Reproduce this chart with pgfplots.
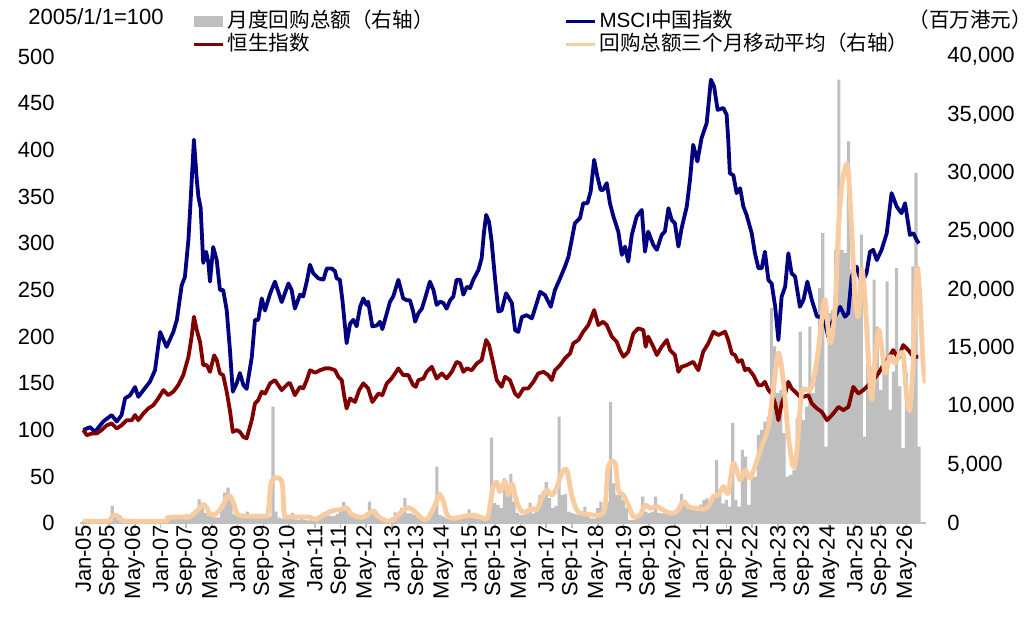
\documentclass[border=0pt]{standalone}
\usepackage{fontspec}
\setmainfont{Liberation Sans}
\newfontfamily\cjk{Noto Sans CJK SC}
\usepackage{pgfplots}
\usepackage{pgfplotstable}
\pgfplotsset{compat=1.18}
\definecolor{msci}{RGB}{0,0,128}
\definecolor{hsi}{RGB}{128,0,0}
\definecolor{ma}{RGB}{248,203,160}
\definecolor{barg}{RGB}{191,191,191}
\definecolor{axg}{RGB}{191,191,191}

\pgfplotstableread{
m v
0 200
1 100
2 150
3 100
4 120
5 150
6 100
7 150
8 200
9 1490
10 770
11 300
12 150
13 100
14 200
15 150
16 100
17 150
18 200
19 150
20 100
21 150
22 200
23 250
24 300
25 250
26 630
27 400
28 350
29 400
30 450
31 500
32 770
33 500
34 700
35 900
36 2060
37 1770
38 900
39 630
40 630
41 500
42 490
43 1200
44 2630
45 3060
46 2060
47 770
48 770
49 600
50 500
51 1000
52 600
53 490
54 490
55 450
56 500
57 700
58 600
59 10000
60 1000
61 490
62 400
63 350
64 500
65 900
66 340
67 300
68 350
69 300
70 250
71 300
72 350
73 400
74 450
75 700
76 900
77 630
78 630
79 800
80 1000
81 1830
82 1340
83 700
84 600
85 600
86 500
87 450
88 700
89 1860
90 1000
91 600
92 400
93 300
94 250
95 300
96 500
97 940
98 700
99 1290
100 2150
101 860
102 860
103 700
104 500
105 400
106 350
107 400
108 600
109 1200
110 4860
111 700
112 600
113 430
114 430
115 430
116 400
117 430
118 500
119 600
120 1200
121 500
122 430
123 400
124 430
125 500
126 800
127 7350
128 1720
129 1570
130 1290
131 3860
132 2430
133 4230
134 1860
135 900
136 715
137 715
138 800
139 1770
140 860
141 1200
142 2430
143 2720
144 3520
145 2150
146 1290
147 1500
148 9150
149 2430
150 2490
151 1000
152 900
153 800
154 700
155 900
156 1430
157 600
158 430
159 430
160 1290
161 1860
162 1290
163 1860
164 10380
165 3430
166 2430
167 2430
168 2000
169 1290
170 290
171 290
172 400
173 600
174 2290
175 1000
176 900
177 1000
178 2290
179 900
180 860
181 860
182 800
183 900
184 1000
185 1200
186 2490
187 1570
188 1300
189 1300
190 1300
191 1400
192 1600
193 2000
194 2140
195 1800
196 2500
197 5430
198 2570
199 1700
200 2000
201 1430
202 8580
203 2000
204 1430
205 6300
206 5720
207 1570
208 4000
209 4000
210 7580
211 8000
212 8720
213 9150
214 18450
215 15160
216 11150
217 11440
218 7720
219 4000
220 4150
221 4580
222 9000
223 16440
224 8870
225 10000
226 16870
227 11150
228 14000
229 20160
230 24880
231 6580
232 18020
233 18300
234 23450
235 38040
236 23450
237 23170
238 32750
239 21740
240 22020
241 18600
242 24740
243 7440
244 16870
245 13440
246 20880
247 16870
248 11440
249 13580
250 20740
251 9720
252 13000
253 21880
254 11730
255 6440
256 12870
257 10000
258 22020
259 30030
260 6580
}\bars

\pgfplotstableread{
m v
0 100
2.1 103
3.6 98
6.2 109
8.8 116
10.4 109
11.9 116
13.0 134
14.5 137
16.1 146
17.1 135.5
20.7 151.6
22.3 164
23.9 205
25.9 189
28.0 205
29.1 218
30.6 255
31.6 264
32.7 304
33.4 347
34.4 411
35.3 368
35.8 350
36.5 338
37.3 279
38.2 291
38.9 279
39.4 259
40.4 296
41.5 282
42.5 250
43.5 250
44.6 228.5
45.6 186
46.5 141
47.7 150
48.7 161
49.8 148
50.8 144
52.4 178
53.4 218
54.4 218
55.5 241
56.5 228
58.1 246
59.6 259
61.7 237
63.8 257
64.8 250
65.8 230
67.4 245
68.4 243
69.5 259
70.5 277
71.5 268
73.1 262.5
74.7 261
75.7 273
77.3 273
78.3 270
78.8 262.5
79.8 261
80.6 239
81.4 211
81.9 193
83.0 214
84.0 218
85.0 211
86.1 232
87.1 241
88.1 234
88.6 237.5
89.9 211
91.3 212
92.3 216
93.0 208
94.4 225
95.4 237.5
96.4 243
98.0 261
99.5 241
100.6 239
101.6 239
102.6 227
103.2 216
104.2 225
105.3 230
106.3 241
107.8 259
108.9 250
109.9 234
111.0 237.5
112.0 236
113.0 230
114.1 239
115.1 243
116.1 261
117.2 261
118.2 245
119.3 253.5
120.3 252
121.3 261
122.9 271.5
123.9 284
124.6 311
125.3 330.5
126.2 323
127.0 302
128.1 261
129.1 227
130.1 228
131.5 246.5
133.3 236
134.3 207
135.3 205
136.4 221
137.9 223
139.5 219.6
140.5 230
142.1 248
143.6 244.6
145.4 232
146.7 250
148.3 262.5
149.8 275
150.9 285.7
151.9 303.6
152.9 321.5
154.5 327
155.5 343
156.8 343
157.8 355.5
158.9 389.5
159.9 371.6
160.9 357.3
161.7 357.3
162.8 364.5
163.8 343
164.9 328.6
166.4 312.6
167.5 287.6
168.5 296.5
169.5 280.4
170.6 309
172.1 328.6
173.7 335.8
174.7 291
175.7 312.6
177.3 298.3
178.4 293
179.9 309
180.9 312.6
182.0 337.7
183.0 325
184.0 321.5
185.1 296.5
186.1 316.2
187.7 339.4
188.7 368
189.7 405.6
191.0 387.7
192.3 412.8
193.9 428.9
195.2 475.3
196.2 468
197.3 443
199.1 445
200.1 437.8
200.6 411
201.1 375
202.2 373
203.2 353.8
204.3 359
205.3 339.4
206.3 330.5
207.9 310.8
208.9 289.4
210.0 273.3
211.0 273.3
212.0 291
213.1 260.7
214.1 257
215.2 232
216.2 196.4
217.2 242.8
218.3 253.5
219.3 289.4
220.3 268
221.4 264.3
222.9 232
224.0 239.3
225.2 259
226.6 239.3
228.2 221.4
229.2 221.4
230.7 214.3
231.7 200
232.8 214.3
235.4 232
236.9 221.4
237.9 225
239.0 264.3
240.5 275
242.1 257
243.6 268
244.7 291
245.7 293
246.8 282
248.3 293
249.9 310.8
251.4 353.8
253.0 339.4
254.5 332.3
255.6 343
257.1 309
258.2 310.8
259.2 303.6
259.9 300
}\mscit

\pgfplotstableread{
m v
0 100
1.1 94.4
2.6 96.2
4.2 96.2
5.7 100
7.3 105
8.8 107
10.4 101.6
11.9 105
13.5 110.5
15.1 110.5
16.1 116
17.1 110.5
18.7 117.7
20.2 123
21.8 126.6
23.3 133.8
24.9 142.7
26.4 137.3
28.0 141
29.5 148
31.1 158.8
32.7 178.4
33.7 200
34.4 221.4
35.3 207
36.3 194.5
37.3 169.5
38.4 169.5
39.4 162.3
40.7 180
41.5 175
42.5 160.6
43.5 158.8
44.6 141
45.6 121
46.5 98
47.7 99.8
48.7 98
49.8 92.6
50.8 90.9
52.4 110.5
53.4 128.4
54.4 132
55.5 141
56.5 139
58.1 150
59.6 153.4
61.7 142.7
63.8 150
64.3 150
65.8 137.3
67.4 146.2
68.4 144.5
69.5 153.4
70.5 164
72.1 161.3
73.6 164
75.2 166
76.7 166
78.3 164
79.3 157
80.4 153.4
81.2 135.5
81.9 123
83.0 133.8
84.5 130
85.8 142.7
87.1 150
88.6 144.5
89.9 130
91.8 139
93.0 137.3
94.4 150
95.9 155.2
98.0 166
99.5 158.8
101.1 158.8
102.6 148
103.4 146.2
104.2 153.4
105.8 155.2
106.8 162.3
108.4 167.7
109.9 155.2
111.5 160.6
113.0 155.2
114.6 162.3
116.1 173
117.2 171.3
118.2 162.3
119.3 166
120.8 164
122.4 171.3
123.9 174.9
125.3 196.4
126.2 191
127.5 171.3
128.6 153.4
130.1 146.2
131.2 157
132.7 153.4
134.3 139
135.3 135.5
136.9 144.5
138.4 144.5
140.0 151.6
141.5 160.6
143.1 162.3
144.6 158.8
145.7 153.4
146.7 164
148.3 169.5
149.8 176.7
151.4 182
152.4 192.8
154.0 196.4
155.5 205.3
157.1 212.4
158.9 228.5
160.2 212.4
161.7 216
162.8 212.4
164.4 200
165.9 194.5
166.9 185.6
168.0 178.4
169.5 183.8
171.1 203.5
172.6 208.9
174.2 207
174.9 189.2
175.7 200
177.3 189.2
178.4 180.3
179.9 189.2
181.5 196.4
182.5 185.6
184.0 180.3
185.1 162.3
186.1 167.7
187.7 169.5
189.7 173
191.3 164
192.8 183.8
194.4 192.8
196.0 205.3
197.5 201.7
199.6 205.3
200.6 196.4
201.7 182
202.7 180.3
203.7 173
204.8 174.9
205.8 164
206.8 166
208.4 158.8
210.0 148
211.0 148
212.0 151.6
213.1 142.7
214.1 139
215.2 128.4
216.2 110.5
217.2 128.4
218.3 139
219.3 151.6
220.3 144.5
221.4 141
222.9 135.5
224.0 135.5
225.5 137.3
226.6 128.4
228.2 123
229.7 119.4
231.3 110.5
232.3 114
233.3 117.7
234.9 124.8
236.4 121.2
238.0 124.8
239.5 146.2
241.1 139
242.6 142.7
244.2 148
245.7 153.4
247.3 160.6
248.8 169.5
250.4 176.7
251.9 185.6
253.5 176.7
255.0 191
256.6 185.6
258.2 178.4
259.7 178.4
}\hsit

\pgfplotstableread{
m v
0 200
7.8 200
8.8 540
9.9 690
11.4 490
13 200
25.4 200
26.4 490
29.5 540
32.7 540
34.2 770
36.3 1340
37.3 1630
38.4 1340
39.4 770
41 770
43 1340
44.6 2200
45.6 2350
46.7 1770
47.7 900
49.3 630
56.5 630
57.5 900
58.6 3630
61.7 3630
62.5 770
63.8 540
70 540
72.1 340
75.2 770
77.3 1060
80.4 1200
81.9 1340
83.5 770
86.6 490
88.2 715
90.2 1060
91.8 570
94.4 200
96.4 290
98.5 860
100.6 1340
102.6 1140
104.7 570
106.8 290
109.4 1570
110.7 2490
112 1860
113.2 715
115.1 430
121.3 715
125.5 400
126.5 1570
127.5 3150
128.6 3520
129.6 2720
131.2 3580
132.2 2430
133.4 3350
134.8 1860
136.4 1000
137.9 1000
139.5 1290
141 1140
142.6 2150
144.1 2860
145.7 2430
147.2 3000
148.8 4290
150.4 4580
151.9 2430
153.5 1140
155 860
160.7 715
162.3 1430
163.3 4860
165.4 5150
166.4 2860
168 2430
169.5 1570
171.1 570
173.2 715
174.7 1570
176.3 1290
178.4 1430
180.4 1140
182.5 860
184.6 1000
186.6 1860
188.2 1430
190 1290
193.9 1290
196 2300
197.5 2400
199.1 3150
200.6 2570
202.2 5150
204.3 3720
205.8 4580
207.4 3860
208.9 4860
211 6580
213.1 8290
214.6 11440
216.2 14590
217.7 12300
219.3 7440
220.8 4860
221.9 6010
223.4 11150
225 11440
226.6 11730
228.2 14020
229.7 17450
230.7 19160
232.3 15450
233.8 18300
234.8 24880
235.9 28890
237.1 30600
237.9 30310
239 25170
240 19450
241.1 17730
242.1 21740
243.1 19450
244.2 14020
245.2 10580
246.2 13730
247.3 16590
248.3 15160
249.4 12870
250.9 14300
252.5 13730
254 14590
255.1 14300
256.1 10870
257.1 9720
258.1 13730
259.2 21740
260.2 19450
261.2 13730
262 12010
}\mat

\pgfplotsset{
  common/.style={
    scale only axis, width=422.77pt, height=233.3pt,
    xmin=-1, xmax=262, at={(0pt,0pt)}, anchor=south west,
    /pgf/number format/assume math mode=true,
  },
  boxlegend/.style={legend image code/.code={\fill[##1] (0pt,-2.75pt) rectangle (14.5pt,2.75pt);}},
  linelegend/.style={legend image code/.code={\draw[##1, line width=1.4pt] (0pt,0pt) -- (14.5pt,0pt);}},
}

\begin{document}
\begin{tikzpicture}
\useasboundingbox (-40.05pt,-53.35pt) rectangle (476.45pt,261.65pt);

% bars, right axis, x axis
\begin{axis}[common, name=ax,
  ymin=0, ymax=40000,
  axis y line*=right, axis x line*=bottom,
  ytick={0,5000,...,40000},
  scaled y ticks=false,
  yticklabel style={/pgf/number format/fixed, /pgf/number format/1000 sep={,},
    anchor=west, inner sep=0pt, xshift=8.2pt, font=\fontsize{11}{13}\selectfont},
  y axis line style={draw=none}, ytick style={draw=none},
  xtick={0,8,...,256},
  xticklabels={Jan-05,Sep-05,May-06,Jan-07,Sep-07,May-08,Jan-09,Sep-09,May-10,Jan-11,Sep-11,May-12,Jan-13,Sep-13,May-14,Jan-15,Sep-15,May-16,Jan-17,Sep-17,May-18,Jan-19,Sep-19,May-20,Jan-21,Sep-21,May-22,Jan-23,Sep-23,May-24,Jan-25,Sep-25,May-26},
  xticklabel style={yshift=1.5pt, rotate=90, anchor=east, inner sep=0pt, font=\fontsize{11}{13}\selectfont},
  x axis line style={draw=axg, line width=0.8pt},
  xtick style={draw=axg, line width=0.8pt},
  tick align=outside, major tick length=2.5pt,
]
\addplot[ybar, bar width=0.95, bar shift=0pt, draw=none, fill=barg] table[x=m,y=v]{\bars};
\end{axis}

% index lines, left axis
\begin{axis}[common,
  ymin=0, ymax=500,
  axis y line*=left, axis x line=none,
  ytick={0,50,...,500},
  yticklabel style={anchor=east, inner sep=0pt, xshift=-12.5pt, font=\fontsize{11}{13}\selectfont},
  y axis line style={draw=none}, ytick style={draw=none},
]
\addplot[msci, line width=1.9pt, line join=round] table[x=m,y=v]{\mscit};
\addplot[hsi, line width=1.9pt, line join=round] table[x=m,y=v]{\hsit};
\end{axis}

% moving average on top, legend
\begin{axis}[common,
  ymin=0, ymax=40000, hide axis,
  legend columns=2, legend cell align=left,
  legend style={at={(0.1335,1.094)}, anchor=north west, draw=none, fill=none,
    inner sep=0pt, outer sep=0pt, row sep=2.5pt,
    font=\cjk\fontsize{10.3}{12}\selectfont,
    nodes={inner xsep=1.5pt, inner ysep=0pt, text height=7.5pt, text depth=1.5pt},
    /tikz/every even column/.append style={column sep=64pt}},
]
\addlegendimage{barg, fill=barg, draw=none, boxlegend}
\addlegendentry{月度回购总额（右轴）}
\addlegendimage{msci, linelegend}
\addlegendentry{{\fontspec{Liberation Sans}MSCI}中国指数}
\addlegendimage{hsi, linelegend}
\addlegendentry{恒生指数}
\addplot[ma, line width=2.4pt, smooth, line join=round, linelegend] table[x=m,y=v]{\mat};
\addlegendentry{回购总额三个月移动平均（右轴）}
\end{axis}

\node[anchor=west, inner sep=0pt, font=\fontsize{11}{13}\selectfont] at (-26.05pt,253.3pt) {2005/1/1=100};
\node[anchor=west, inner sep=0pt, font=\cjk\fontsize{10.3}{12}\selectfont] at (413.95pt,251.65pt) {（百万港元）};
\end{tikzpicture}
\end{document}
